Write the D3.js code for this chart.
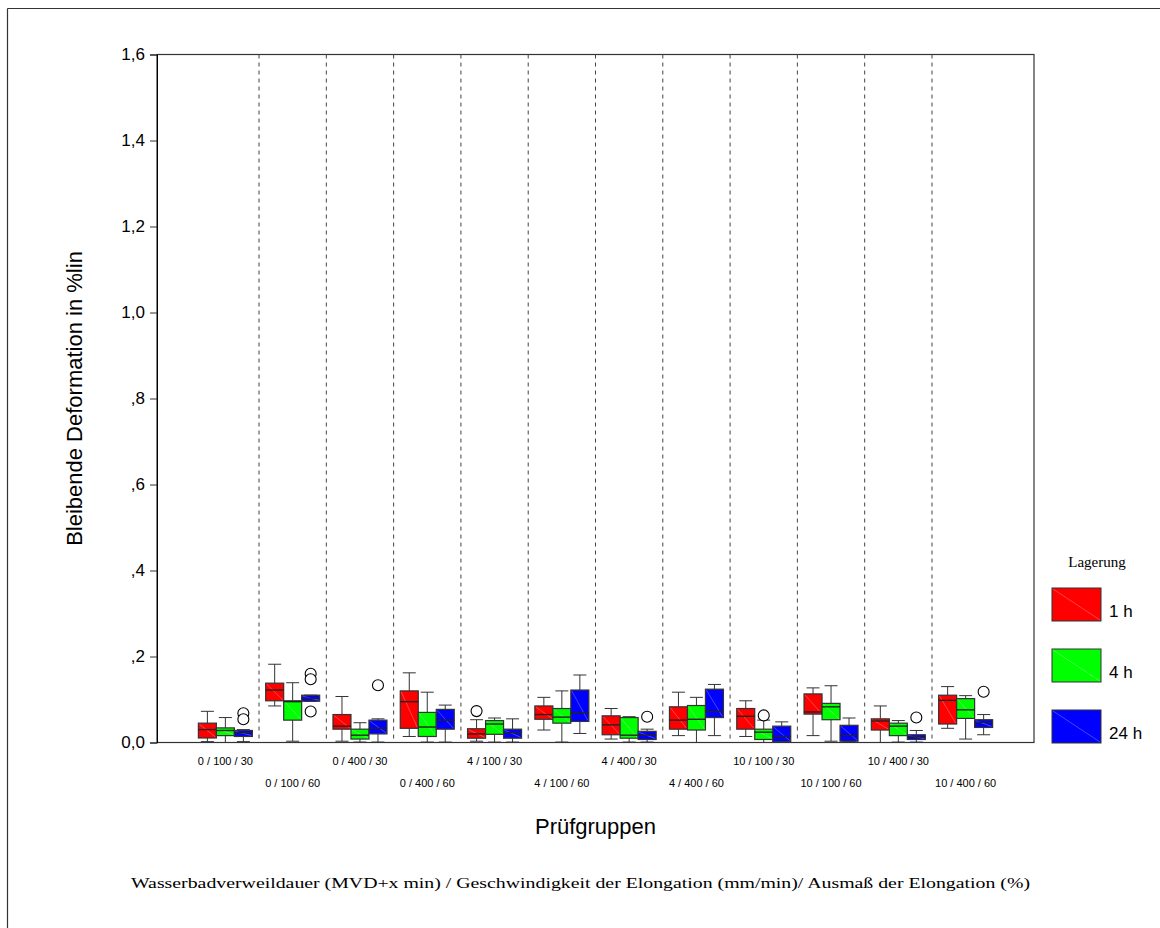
<!DOCTYPE html>
<html>
<head>
<meta charset="utf-8">
<script src="https://cdn.jsdelivr.net/npm/d3@7"></script>
<style>
  body { margin: 0; background: #fff; }
  text { font-family: "Liberation Sans", Arial, sans-serif; }
  .serif { font-family: "Liberation Serif", "Times New Roman", serif; }
</style>
</head>
<body>
<div id="chart"></div>
<script>
// Prüfgruppen (x categories)
const groups = ["0 / 100 / 30", "0 / 100 / 60", "0 / 400 / 30", "0 / 400 / 60",
  "4 / 100 / 30", "4 / 100 / 60", "4 / 400 / 30", "4 / 400 / 60",
  "10 / 100 / 30", "10 / 100 / 60", "10 / 400 / 30", "10 / 400 / 60"];
const series = ["1 h", "4 h", "24 h"];
const colors = ["#ff0000", "#00ff00", "#0000ff"];

// [whisker low, Q1, median, Q3, whisker high] per group
const box1h = [
  [0.002, 0.0105, 0.030, 0.045, 0.0725],
  [0.085, 0.097, 0.122, 0.138, 0.182],
  [0.003, 0.031, 0.038, 0.065, 0.107],
  [0.014, 0.033, 0.095, 0.120, 0.162],
  [0.003, 0.010, 0.020, 0.032, 0.053],
  [0.029, 0.054, 0.065, 0.085, 0.105],
  [0.008, 0.018, 0.041, 0.062, 0.079],
  [0.016, 0.031, 0.052, 0.083, 0.117],
  [0.014, 0.031, 0.061, 0.079, 0.097],
  [0.016, 0.066, 0.071, 0.113, 0.127],
  [0.000, 0.029, 0.050, 0.055, 0.085],
  [0.033, 0.043, 0.098, 0.110, 0.130]
];
const box4h = [
  [0.000, 0.016, 0.028, 0.034, 0.058],
  [0.003, 0.052, 0.095, 0.097, 0.139],
  [0.001, 0.008, 0.017, 0.031, 0.046],
  [0.001, 0.014, 0.036, 0.070, 0.117],
  [0.001, 0.019, 0.043, 0.051, 0.057],
  [0.001, 0.045, 0.059, 0.079, 0.120],
  [0.001, 0.010, 0.017, 0.058, 0.060],
  [0.000, 0.029, 0.054, 0.086, 0.105],
  [0.000, 0.007, 0.024, 0.031, 0.052],
  [0.003, 0.053, 0.083, 0.091, 0.132],
  [0.001, 0.016, 0.038, 0.045, 0.051],
  [0.008, 0.056, 0.076, 0.102, 0.109]
];
const box24h = [
  [0.002, 0.014, 0.023, 0.028, 0.030],
  [0.096, 0.096, 0.103, 0.110, 0.110],
  [0.001, 0.020, 0.033, 0.052, 0.055],
  [0.001, 0.031, 0.052, 0.077, 0.087],
  [0.001, 0.010, 0.023, 0.031, 0.055],
  [0.021, 0.049, 0.069, 0.122, 0.157],
  [0.001, 0.007, 0.017, 0.026, 0.031],
  [0.016, 0.058, 0.072, 0.124, 0.135],
  [0.002, 0.002, 0.014, 0.038, 0.048],
  [0.002, 0.003, 0.016, 0.040, 0.057],
  [0.001, 0.007, 0.013, 0.018, 0.028],
  [0.018, 0.035, 0.047, 0.053, 0.065]
];
// outliers: [group index, series index, value]
const outliers = [
  [0, 2, 0.068], [0, 2, 0.054],
  [1, 2, 0.160], [1, 2, 0.147], [1, 2, 0.072],
  [2, 2, 0.133],
  [4, 0, 0.073],
  [6, 2, 0.060],
  [8, 1, 0.063],
  [10, 2, 0.058],
  [11, 2, 0.118]
];
const yTicks = [0, 0.2, 0.4, 0.6, 0.8, 1.0, 1.2, 1.4, 1.6];
const yTickLabels = ["0,0", ",2", ",4", ",6", ",8", "1,0", "1,2", "1,4", "1,6"];

const boxes = [box1h, box4h, box24h];

const W = 1160, H = 928;
const plot = { left: 157, right: 1034, top: 54.5, bottom: 742.5 };

const svg = d3.select("#chart").append("svg")
  .attr("width", W).attr("height", H);

// outer frame (top and left edges visible)
svg.append("line").attr("x1", 7.5).attr("x2", W).attr("y1", 8.5).attr("y2", 8.5)
  .attr("stroke", "#333").attr("stroke-width", 1.2);
svg.append("line").attr("x1", 7.5).attr("x2", 7.5).attr("y1", 8.5).attr("y2", H)
  .attr("stroke", "#333").attr("stroke-width", 1.2);

const x = d3.scaleBand().domain(groups)
  .range([plot.left, plot.right]).paddingInner(0).paddingOuter(0.516);
const xs = d3.scaleBand().domain(series)
  .range([0, x.bandwidth()]).paddingInner(0).paddingOuter(0.37);
const y = d3.scaleLinear().domain([0, 1.6]).range([plot.bottom, plot.top]);

// plot frame
svg.append("rect")
  .attr("x", plot.left).attr("y", plot.top)
  .attr("width", plot.right - plot.left).attr("height", plot.bottom - plot.top)
  .attr("fill", "none").attr("stroke", "#333").attr("stroke-width", 1.2);

// dashed dividers between groups
svg.selectAll(".divider")
  .data(groups.slice(1))
  .enter().append("line")
    .attr("class", "divider")
    .attr("x1", d => x(d)).attr("x2", d => x(d))
    .attr("y1", plot.top).attr("y2", plot.bottom)
    .attr("stroke", "#444").attr("stroke-dasharray", "4,4");

// y axis
const yAxis = svg.append("g")
  .attr("transform", `translate(${plot.left},0)`)
  .call(d3.axisLeft(y).tickValues(yTicks).tickSize(7)
    .tickFormat((d, i) => yTickLabels[i]).tickPadding(5));
yAxis.select(".domain").attr("stroke", "#000");
yAxis.selectAll(".tick line").attr("stroke", "#333");
yAxis.selectAll("text").attr("font-size", 17).attr("fill", "#000")
  .style("font-family", "'Liberation Sans', Arial, sans-serif");

// boxes
const boxW = xs.bandwidth();
const capW = 13;
series.forEach((s, si) => {
  const data = boxes[si].map((v, gi) => ({ g: groups[gi], v }));
  const gs = svg.selectAll(".box" + si)
    .data(data)
    .enter().append("g")
      .attr("class", "box" + si)
      .attr("transform", d => `translate(${x(d.g) + xs(s)},0)`);
  const cx = boxW / 2;
  // whiskers
  gs.append("line")
    .attr("x1", cx).attr("x2", cx)
    .attr("y1", d => y(d.v[4])).attr("y2", d => y(d.v[3]))
    .attr("stroke", "#333");
  gs.append("line")
    .attr("x1", cx).attr("x2", cx)
    .attr("y1", d => y(d.v[1])).attr("y2", d => y(d.v[0]))
    .attr("stroke", "#333");
  gs.append("line")
    .attr("x1", cx - capW / 2).attr("x2", cx + capW / 2)
    .attr("y1", d => y(d.v[4])).attr("y2", d => y(d.v[4]))
    .attr("stroke", "#333");
  gs.append("line")
    .attr("x1", cx - capW / 2).attr("x2", cx + capW / 2)
    .attr("y1", d => y(d.v[0])).attr("y2", d => y(d.v[0]))
    .attr("stroke", "#333");
  // box
  gs.append("rect")
    .attr("x", 0).attr("width", boxW)
    .attr("y", d => y(d.v[3]))
    .attr("height", d => Math.max(1, y(d.v[1]) - y(d.v[3])))
    .attr("fill", colors[si]).attr("stroke", "#333").attr("stroke-width", 1.2);
  // faint diagonal
  gs.append("line")
    .attr("x1", 1).attr("x2", boxW - 1)
    .attr("y1", d => y(d.v[3]) + 1).attr("y2", d => y(d.v[1]) - 1)
    .attr("stroke", "#fff").attr("stroke-opacity", 0.45).attr("stroke-width", 0.6);
  // median
  gs.append("line")
    .attr("x1", 0).attr("x2", boxW)
    .attr("y1", d => y(d.v[2])).attr("y2", d => y(d.v[2]))
    .attr("stroke", "#222").attr("stroke-width", 1.4);
});

// outliers
svg.selectAll(".outlier")
  .data(outliers)
  .enter().append("circle")
    .attr("class", "outlier")
    .attr("cx", d => x(groups[d[0]]) + xs(series[d[1]]) + boxW / 2)
    .attr("cy", d => y(d[2]))
    .attr("r", 5.5)
    .attr("fill", "#fff").attr("stroke", "#000").attr("stroke-width", 1.1);

// x category labels in two staggered rows
svg.selectAll(".xlab")
  .data(groups)
  .enter().append("text")
    .attr("class", "xlab")
    .attr("x", d => x(d) + x.bandwidth() / 2)
    .attr("y", (d, i) => i % 2 === 0 ? 765 : 787)
    .attr("text-anchor", "middle")
    .attr("font-size", 11)
    .text(d => d);

// axis titles
svg.append("text")
  .attr("x", (plot.left + plot.right) / 2).attr("y", 834)
  .attr("text-anchor", "middle").attr("font-size", 22)
  .text("Prüfgruppen");

svg.append("text")
  .attr("transform", `translate(82,${(plot.top + plot.bottom) / 2}) rotate(-90)`)
  .attr("text-anchor", "middle").attr("font-size", 22)
  .text("Bleibende Deformation in %lin");

svg.append("text")
  .attr("class", "serif")
  .attr("x", 580.5).attr("y", 888)
  .attr("text-anchor", "middle").attr("font-size", 15)
  .attr("textLength", 899).attr("lengthAdjust", "spacingAndGlyphs")
  .text("Wasserbadverweildauer (MVD+x min) / Geschwindigkeit der Elongation (mm/min)/ Ausmaß der Elongation (%)");

// legend
const legend = svg.append("g");
legend.append("text")
  .attr("class", "serif")
  .attr("x", 1097).attr("y", 567)
  .attr("text-anchor", "middle").attr("font-size", 15)
  .text("Lagerung");
const legY = d3.scalePoint().domain(series).range([588, 710]);
const items = legend.selectAll(".leg")
  .data(series)
  .enter().append("g")
    .attr("class", "leg")
    .attr("transform", d => `translate(1052,${legY(d)})`);
items.append("rect")
  .attr("width", 49).attr("height", 33)
  .attr("fill", (d, i) => colors[i]).attr("stroke", "#333");
items.append("line")
  .attr("x1", 1).attr("y1", 1).attr("x2", 48).attr("y2", 32)
  .attr("stroke", "#fff").attr("stroke-opacity", 0.45).attr("stroke-width", 0.6);
items.append("text")
  .attr("x", 57).attr("y", 29)
  .attr("font-size", 17)
  .text(d => d);
</script>
</body>
</html>
